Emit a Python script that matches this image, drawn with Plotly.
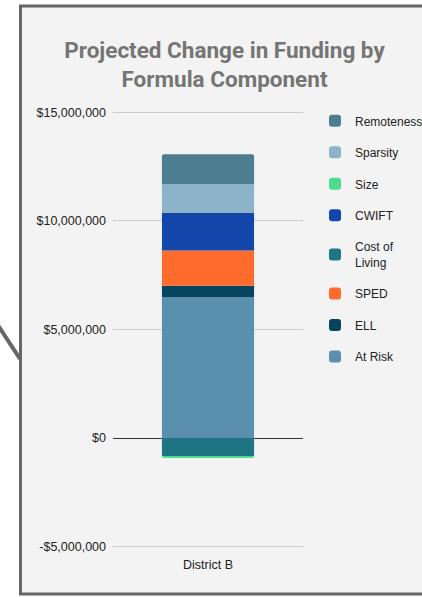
import plotly.graph_objects as go

# Funding change by formula component (USD), stacked for one district
district = ["District B"]
components = ["At Risk", "ELL", "SPED", "Cost of Living", "CWIFT", "Size", "Sparsity", "Remoteness"]
legend_labels = ["At Risk", "ELL", "SPED", "Cost of<br>Living", "CWIFT", "Size", "Sparsity", "Remoteness"]
values = [6500000, 520000, 1620000, -830000, 1730000, -90000, 1320000, 1380000]
colors = ["#5a90ad", "#07455f", "#ff6b2d", "#1f7584", "#1246a8", "#4ddb8e", "#8cb3c7", "#4d7e90"]

y_ticks = [-5000000, 0, 5000000, 10000000, 15000000]
y_tick_labels = ["-$5,000,000", "$0", "$5,000,000", "$10,000,000", "$15,000,000"]
y_range = [-5200000, 15200000]

fig = go.Figure()
n = len(components)
for i, (name, label, val, col) in enumerate(zip(components, legend_labels, values, colors)):
    fig.add_trace(go.Bar(
        x=district, y=[val], name=label, legendgroup=name, legendrank=n - i,
        marker=dict(color=col, line=dict(width=0)),
        hovertemplate=name + ": %{y:$,.0f}<extra></extra>",
    ))

# plot area in pixels: x 113..303; $15M at y=112, -$5M at y=547
W, H = 422, 597
L, R = 113, 303
px_per_unit = (547 - 112) / 20000000
T = 112 - (y_range[1] - 15000000) * px_per_unit
B = 547 + (-5000000 - y_range[0]) * px_per_unit

def px_x(p):
    return (p - L) / (R - L)

def px_y(p):
    return (B - p) / (B - T)

shapes = [
    # card frame
    dict(type="rect", xref="paper", yref="paper", layer="below",
         x0=px_x(20.5), x1=px_x(440), y0=px_y(5.5), y1=px_y(594.5),
         fillcolor="#f3f3f3", line=dict(color="#666666", width=3)),
    # connector line
    dict(type="line", xref="paper", yref="paper", layer="below",
         x0=px_x(-8), y0=px_y(316), x1=px_x(20), y1=px_y(359),
         line=dict(color="#666666", width=4)),
]

fig.update_layout(
    width=W, height=H,
    margin=dict(l=L, r=W - R, t=T, b=H - B, pad=0, autoexpand=False),
    paper_bgcolor="white",
    plot_bgcolor="rgba(0,0,0,0)",
    barmode="relative",
    bargap=0.515,
    barcornerradius=2,
    font=dict(family="Liberation Sans, Arial, sans-serif", size=12, color="#222222"),
    title=dict(
        text="Projected Change in Funding by<br>Formula Component",
        x=px_x(224.5), xref="paper", xanchor="center",
        y=1 - 58 / H, yanchor="middle",
        font=dict(family="Roboto, Liberation Sans, Arial, sans-serif",
                  size=22.5, color="#757575", weight="bold"),
    ),
    xaxis=dict(showgrid=False, showline=False, ticks="", tickfont=dict(size=12.5, color="#222222"),
               ticklabelstandoff=4, fixedrange=True),
    yaxis=dict(range=y_range, tickvals=y_ticks, ticktext=y_tick_labels,
               showgrid=True, gridcolor="#cccccc", gridwidth=1,
               zeroline=True, zerolinecolor="#333333", zerolinewidth=1,
               showline=False, ticks="", ticklabelstandoff=6,
               tickfont=dict(size=12.5, color="#222222"), fixedrange=True),
    legend=dict(
        traceorder="grouped", tracegroupgap=12.5,
        x=px_x(315), xanchor="left", y=px_y(106), yanchor="top",
        font=dict(size=12, color="#222222"),
        bgcolor="rgba(0,0,0,0)", itemwidth=30,
    ),
    shapes=shapes,
)

fig.write_html("out.html")
